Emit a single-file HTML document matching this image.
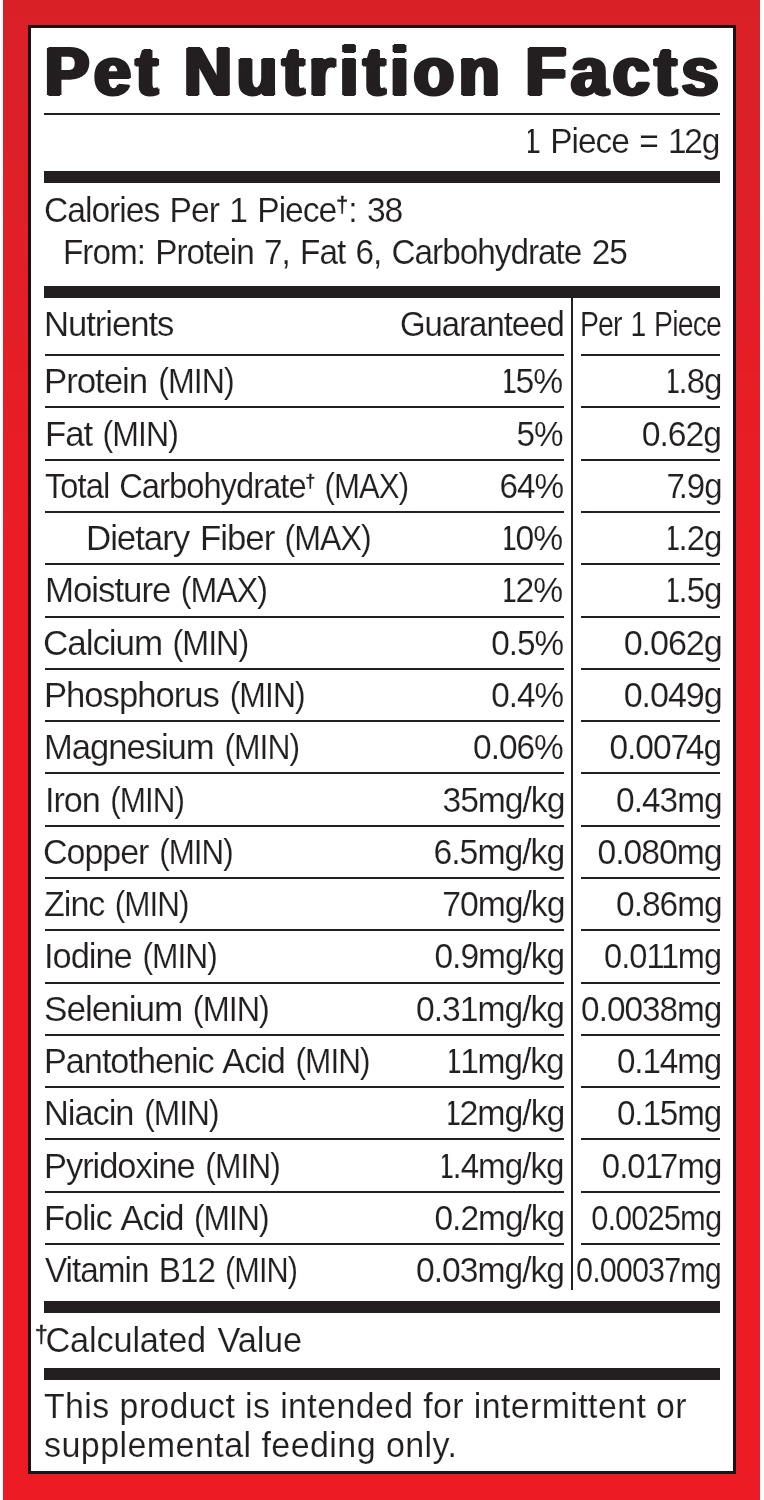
<!DOCTYPE html>
<html><head><meta charset="utf-8"><title>Pet Nutrition Facts</title><style>
html,body{margin:0;padding:0}
body{width:764px;height:1500px;position:relative;overflow:hidden;background:#fff;font-family:"Liberation Sans",sans-serif;color:#231f20}
.red{position:absolute;left:2.7px;top:0;width:757.8px;height:1500px;background:linear-gradient(#da2027 0,#dd2027 10%,#e41e26 22%,#eb1c24 36%,#ed1c24 50%,#ed1c24 100%)}
.blk{position:absolute;left:28px;top:25px;width:708px;height:1449px;background:#1a1214}
.wht{position:absolute;left:31px;top:28px;width:701.5px;height:1442.5px;background:#fff}
.bar{position:absolute;left:44px;width:675.8px;background:#231f20}
.ln{position:absolute;height:1.7px;background:#231f20}
.t{position:absolute;white-space:nowrap;line-height:1;-webkit-text-stroke:0.15px #fff;letter-spacing:-0.03em;word-spacing:0.06em;}
.txt{position:absolute;left:0;top:0;width:764px;height:1500px;will-change:transform}
.l{transform-origin:0 0}
.r{transform-origin:100% 0}
.d{position:relative;line-height:0;-webkit-text-stroke:0.45px #231f20;letter-spacing:0}
.m{display:inline-block;transform:scaleX(.92);transform-origin:0 50%}
.c1{display:inline-block;clip-path:inset(0 0 0 .17em)}

</style></head><body>
<div class="red"></div><div class="blk"></div><div class="wht"></div>
<div class="bar" style="top:170.8px;height:11.8px"></div>
<div class="bar" style="top:286.2px;height:11.6px"></div>
<div class="bar" style="top:1300.9px;height:11.9px"></div>
<div class="bar" style="top:1367.9px;height:11.7px"></div>
<div class="ln" style="left:44.4px;width:675.6px;top:113px;height:1.6px"></div>
<div class="ln" style="left:44.8px;width:519.2px;top:354.00px"></div>
<div class="ln" style="left:580.8px;width:139.4px;top:354.00px"></div>
<div class="ln" style="left:44.8px;width:519.2px;top:406.00px"></div>
<div class="ln" style="left:580.8px;width:139.4px;top:406.00px"></div>
<div class="ln" style="left:44.8px;width:519.2px;top:459.00px"></div>
<div class="ln" style="left:580.8px;width:139.4px;top:459.00px"></div>
<div class="ln" style="left:44.8px;width:519.2px;top:511.00px"></div>
<div class="ln" style="left:580.8px;width:139.4px;top:511.00px"></div>
<div class="ln" style="left:44.8px;width:519.2px;top:563.00px"></div>
<div class="ln" style="left:580.8px;width:139.4px;top:563.00px"></div>
<div class="ln" style="left:44.8px;width:519.2px;top:616.00px"></div>
<div class="ln" style="left:580.8px;width:139.4px;top:616.00px"></div>
<div class="ln" style="left:44.8px;width:519.2px;top:668.00px"></div>
<div class="ln" style="left:580.8px;width:139.4px;top:668.00px"></div>
<div class="ln" style="left:44.8px;width:519.2px;top:720.00px"></div>
<div class="ln" style="left:580.8px;width:139.4px;top:720.00px"></div>
<div class="ln" style="left:44.8px;width:519.2px;top:772.00px"></div>
<div class="ln" style="left:580.8px;width:139.4px;top:772.00px"></div>
<div class="ln" style="left:44.8px;width:519.2px;top:825.00px"></div>
<div class="ln" style="left:580.8px;width:139.4px;top:825.00px"></div>
<div class="ln" style="left:44.8px;width:519.2px;top:877.00px"></div>
<div class="ln" style="left:580.8px;width:139.4px;top:877.00px"></div>
<div class="ln" style="left:44.8px;width:519.2px;top:929.00px"></div>
<div class="ln" style="left:580.8px;width:139.4px;top:929.00px"></div>
<div class="ln" style="left:44.8px;width:519.2px;top:982.00px"></div>
<div class="ln" style="left:580.8px;width:139.4px;top:982.00px"></div>
<div class="ln" style="left:44.8px;width:519.2px;top:1034.00px"></div>
<div class="ln" style="left:580.8px;width:139.4px;top:1034.00px"></div>
<div class="ln" style="left:44.8px;width:519.2px;top:1086.00px"></div>
<div class="ln" style="left:580.8px;width:139.4px;top:1086.00px"></div>
<div class="ln" style="left:44.8px;width:519.2px;top:1138.00px"></div>
<div class="ln" style="left:580.8px;width:139.4px;top:1138.00px"></div>
<div class="ln" style="left:44.8px;width:519.2px;top:1191.00px"></div>
<div class="ln" style="left:580.8px;width:139.4px;top:1191.00px"></div>
<div class="ln" style="left:44.8px;width:519.2px;top:1243.00px"></div>
<div class="ln" style="left:580.8px;width:139.4px;top:1243.00px"></div>
<div style="position:absolute;left:571.2px;top:297px;width:1.8px;height:992.5px;background:#231f20"></div>
<div class="txt">
<div class="t l" style="left:44.33px;top:307.00px;font-size:35.7px;transform:scaleX(0.9717);">Nutrients</div>
<div class="t r" style="right:200.05px;top:307.00px;font-size:35.7px;transform:scaleX(0.9216);">Guaranteed</div>
<div class="t r" style="right:42.95px;top:307.00px;font-size:35.7px;transform:scaleX(0.7970);">Per 1 Piece</div>
<div class="t l" style="left:44.37px;top:364.00px;font-size:35.7px;transform:scaleX(0.9771);">Protein <span class="m">(MIN)</span></div>
<div class="t r" style="right:201.40px;top:364.00px;font-size:35.7px;transform:scaleX(0.9430);"><span class="c1" style="letter-spacing:-0.06em">1</span>5%</div>
<div class="t r" style="right:42.85px;top:364.00px;font-size:35.7px;transform:scaleX(0.9235);"><span class="c1" style="letter-spacing:-0.08em">1</span>.8g</div>
<div class="t l" style="left:44.54px;top:417.00px;font-size:35.7px;transform:scaleX(0.9760);">Fat <span class="m">(MIN)</span></div>
<div class="t r" style="right:201.38px;top:417.00px;font-size:35.7px;transform:scaleX(0.9308);">5%</div>
<div class="t r" style="right:42.69px;top:417.00px;font-size:35.7px;transform:scaleX(0.9441);">0.62g</div>
<div class="t l" style="left:44.70px;top:469.00px;font-size:35.7px;transform:scaleX(0.9163);">Total Carbohydrate<span class="d" style="font-size:0.536em;top:-0.6em;letter-spacing:-0.05em">†</span> <span class="m" style="transform:scaleX(.953)">(MAX)</span></div>
<div class="t r" style="right:200.62px;top:469.00px;font-size:35.7px;transform:scaleX(0.9337);">64%</div>
<div class="t r" style="right:42.43px;top:469.00px;font-size:35.7px;transform:scaleX(0.9233);"><span style="letter-spacing:-0.19em">7</span>.9g</div>
<div class="t l" style="left:86.07px;top:521.00px;font-size:35.7px;transform:scaleX(0.9779);">Dietary Fiber <span class="m">(MAX)</span></div>
<div class="t r" style="right:201.40px;top:521.00px;font-size:35.7px;transform:scaleX(0.9430);"><span class="c1" style="letter-spacing:-0.06em">1</span>0%</div>
<div class="t r" style="right:42.85px;top:521.00px;font-size:35.7px;transform:scaleX(0.9235);"><span class="c1" style="letter-spacing:-0.08em">1</span>.2g</div>
<div class="t l" style="left:44.58px;top:573.00px;font-size:35.7px;transform:scaleX(0.9774);">Moisture <span class="m">(MAX)</span></div>
<div class="t r" style="right:201.40px;top:573.00px;font-size:35.7px;transform:scaleX(0.9430);"><span class="c1" style="letter-spacing:-0.06em">1</span>2%</div>
<div class="t r" style="right:42.85px;top:573.00px;font-size:35.7px;transform:scaleX(0.9235);"><span class="c1" style="letter-spacing:-0.08em">1</span>.5g</div>
<div class="t l" style="left:43.42px;top:626.00px;font-size:35.7px;transform:scaleX(0.9811);">Calcium <span class="m">(MIN)</span></div>
<div class="t r" style="right:201.39px;top:626.00px;font-size:35.7px;transform:scaleX(0.9331);">0.5%</div>
<div class="t r" style="right:42.11px;top:626.00px;font-size:35.7px;transform:scaleX(0.9549);">0.062g</div>
<div class="t l" style="left:44.14px;top:678.00px;font-size:35.7px;transform:scaleX(0.9721);">Phosphorus <span class="m">(MIN)</span></div>
<div class="t r" style="right:201.39px;top:678.00px;font-size:35.7px;transform:scaleX(0.9331);">0.4%</div>
<div class="t r" style="right:42.11px;top:678.00px;font-size:35.7px;transform:scaleX(0.9549);">0.049g</div>
<div class="t l" style="left:44.47px;top:730.00px;font-size:35.7px;transform:scaleX(0.9699);">Magnesium <span class="m">(MIN)</span></div>
<div class="t r" style="right:201.10px;top:730.00px;font-size:35.7px;transform:scaleX(0.9364);">0.06%</div>
<div class="t r" style="right:42.57px;top:730.00px;font-size:35.7px;transform:scaleX(0.9372);">0.00<span style="letter-spacing:-0.1em">7</span>4g</div>
<div class="t l" style="left:44.83px;top:783.00px;font-size:35.7px;transform:scaleX(0.9582);">Iron <span class="m">(MIN)</span></div>
<div class="t r" style="right:199.72px;top:783.00px;font-size:35.7px;transform:scaleX(0.9426);">35mg/kg</div>
<div class="t r" style="right:42.35px;top:783.00px;font-size:35.7px;transform:scaleX(0.9371);">0.43mg</div>
<div class="t l" style="left:43.32px;top:835.00px;font-size:35.7px;transform:scaleX(0.9529);">Copper <span class="m">(MIN)</span></div>
<div class="t r" style="right:200.13px;top:835.00px;font-size:35.7px;transform:scaleX(0.9458);">6.5mg/kg</div>
<div class="t r" style="right:42.88px;top:835.00px;font-size:35.7px;transform:scaleX(0.9429);">0.080mg</div>
<div class="t l" style="left:44.48px;top:887.00px;font-size:35.7px;transform:scaleX(0.9563);">Zinc <span class="m">(MIN)</span></div>
<div class="t r" style="right:199.77px;top:887.00px;font-size:35.7px;transform:scaleX(0.9442);">70mg/kg</div>
<div class="t r" style="right:42.35px;top:887.00px;font-size:35.7px;transform:scaleX(0.9371);">0.86mg</div>
<div class="t l" style="left:44.37px;top:939.00px;font-size:35.7px;transform:scaleX(0.9647);">Iodine <span class="m">(MIN)</span></div>
<div class="t r" style="right:199.99px;top:939.00px;font-size:35.7px;transform:scaleX(0.9386);">0.9mg/kg</div>
<div class="t r" style="right:43.16px;top:939.00px;font-size:35.7px;transform:scaleX(0.9135);">0.<span style="letter-spacing:-0.03em">0</span><span style="letter-spacing:-0.04em">1</span><span style="letter-spacing:-0.04em">1</span>mg</div>
<div class="t l" style="left:43.54px;top:992.00px;font-size:35.7px;transform:scaleX(0.9858);">Selenium <span class="m">(MIN)</span></div>
<div class="t r" style="right:200.13px;top:992.00px;font-size:35.7px;transform:scaleX(0.9422);">0.31mg/kg</div>
<div class="t r" style="right:43.23px;top:992.00px;font-size:35.7px;transform:scaleX(0.9326);">0.0038mg</div>
<div class="t l" style="left:44.49px;top:1044.00px;font-size:35.7px;transform:scaleX(0.9601);">Pantothenic Acid <span class="m">(MIN)</span></div>
<div class="t r" style="right:200.34px;top:1044.00px;font-size:35.7px;transform:scaleX(0.9385);"><span class="c1" style="letter-spacing:-0.07em">1</span><span style="letter-spacing:-0.04em">1</span>mg/kg</div>
<div class="t r" style="right:42.90px;top:1044.00px;font-size:35.7px;transform:scaleX(0.9296);">0.<span style="letter-spacing:-0.04em">1</span>4mg</div>
<div class="t l" style="left:44.34px;top:1096.00px;font-size:35.7px;transform:scaleX(0.9635);">Niacin <span class="m">(MIN)</span></div>
<div class="t r" style="right:199.63px;top:1096.00px;font-size:35.7px;transform:scaleX(0.9473);"><span class="c1" style="letter-spacing:-0.06em">1</span>2mg/kg</div>
<div class="t r" style="right:42.90px;top:1096.00px;font-size:35.7px;transform:scaleX(0.9296);">0.<span style="letter-spacing:-0.04em">1</span>5mg</div>
<div class="t l" style="left:44.42px;top:1149.00px;font-size:35.7px;transform:scaleX(0.9659);">Pyridoxine <span class="m">(MIN)</span></div>
<div class="t r" style="right:200.12px;top:1149.00px;font-size:35.7px;transform:scaleX(0.9292);"><span class="c1" style="letter-spacing:-0.08em">1</span>.4mg/kg</div>
<div class="t r" style="right:42.78px;top:1149.00px;font-size:35.7px;transform:scaleX(0.9240);">0.<span style="letter-spacing:-0.03em">0</span><span style="letter-spacing:-0.09em">1</span>7mg</div>
<div class="t l" style="left:44.16px;top:1201.00px;font-size:35.7px;transform:scaleX(0.9675);">Folic Acid <span class="m">(MIN)</span></div>
<div class="t r" style="right:199.99px;top:1201.00px;font-size:35.7px;transform:scaleX(0.9386);">0.2mg/kg</div>
<div class="t r" style="right:42.96px;top:1201.00px;font-size:35.7px;transform:scaleX(0.8657);">0.0025mg</div>
<div class="t l" style="left:44.68px;top:1253.00px;font-size:35.7px;transform:scaleX(0.9329);">Vitamin B12 <span class="m">(MIN)</span></div>
<div class="t r" style="right:200.13px;top:1253.00px;font-size:35.7px;transform:scaleX(0.9422);">0.03mg/kg</div>
<div class="t r" style="right:42.86px;top:1253.00px;font-size:35.7px;transform:scaleX(0.8578);">0.00037mg</div>
<div class="t l" style="left:45.44px;top:38.00px;font-size:68.9px;transform:scaleX(0.9602);font-weight:bold;-webkit-text-stroke:2px #231f20;text-shadow:2.5px 0 #231f20,-2.5px 0 #231f20;letter-spacing:0.075em;word-spacing:-0.03em;">Pet Nutrition Facts</div>
<div class="t r" style="right:44.24px;top:124.00px;font-size:35.7px;transform:scaleX(0.9362);"><span class="c1">1</span> Piece = <span style="letter-spacing:-0.07em">1</span>2g</div>
<div class="t l" style="left:43.65px;top:193.00px;font-size:35.7px;transform:scaleX(0.9419);">Calories Per 1 Piece<span class="d" style="font-size:0.64em;top:-0.45em;letter-spacing:0em">†</span>: 38</div>
<div class="t l" style="left:62.55px;top:235.00px;font-size:35.7px;transform:scaleX(0.9335);">From: Protein 7, Fat 6, Carbohydrate 25</div>
<div class="t l" style="left:35.33px;top:1323.00px;font-size:35.7px;transform:scaleX(0.9628);letter-spacing:-0.005em;"><span class="d" style="font-size:0.665em;top:-0.39em;letter-spacing:-0.1em">†</span>Calculated Value</div>
<div class="t l" style="left:44.44px;top:1389.00px;font-size:35.7px;transform:scaleX(0.9492);letter-spacing:0.012em;word-spacing:0;">This product is intended for intermittent or</div>
<div class="t l" style="left:43.55px;top:1428.00px;font-size:35.7px;transform:scaleX(0.9545);letter-spacing:0.012em;word-spacing:0;">supplemental feeding only.</div>
</div>
</body></html>
